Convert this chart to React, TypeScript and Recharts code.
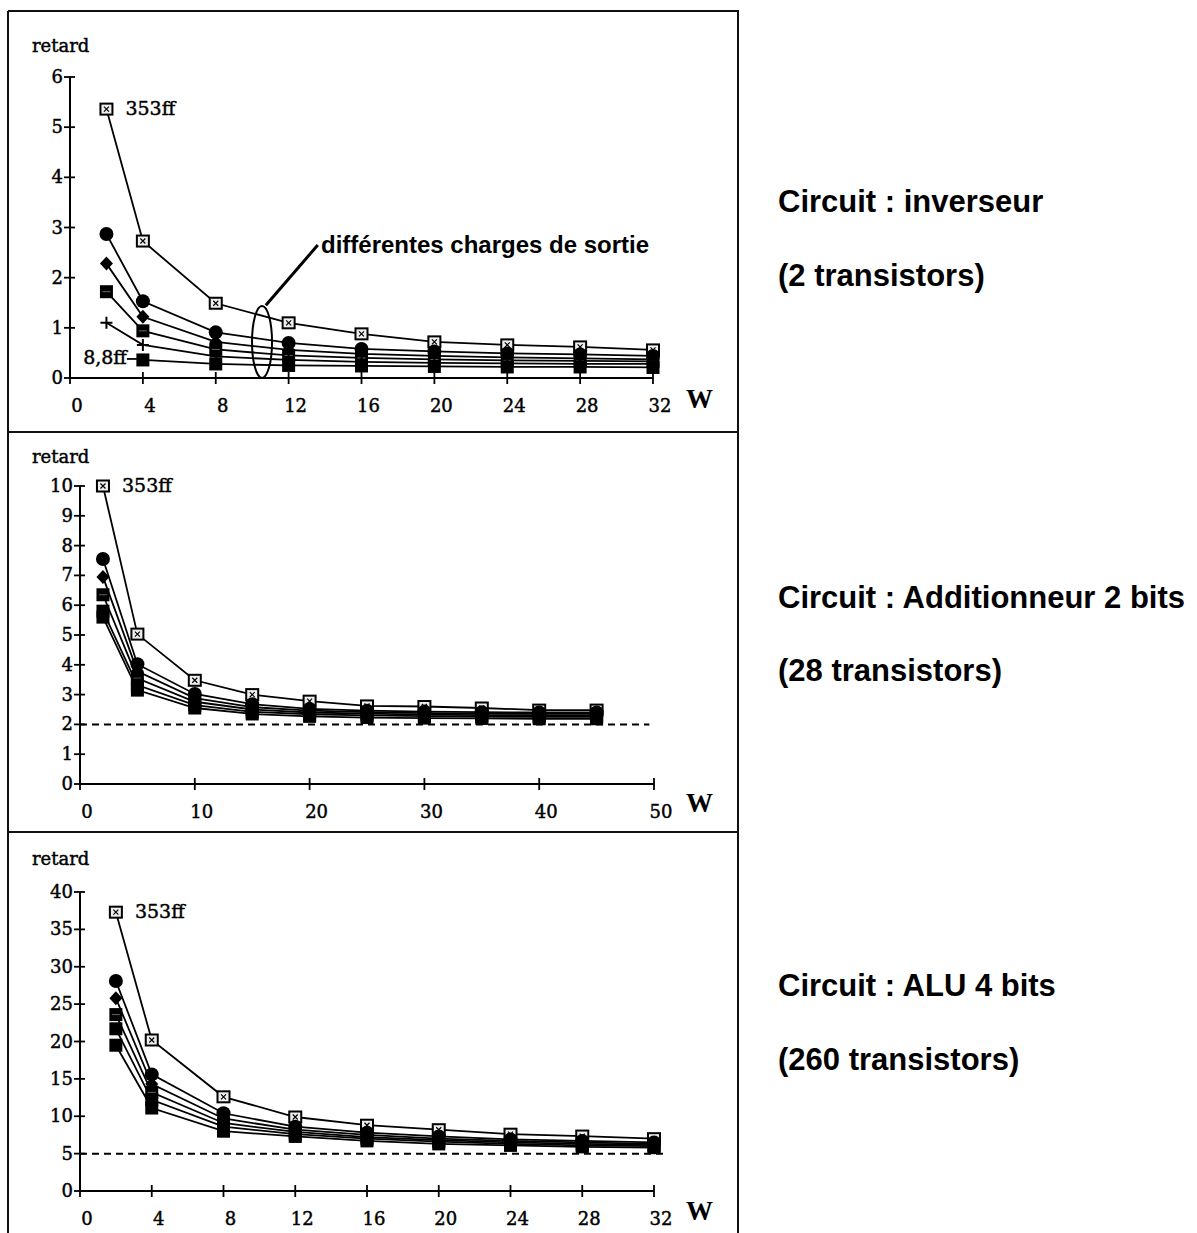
import React from "react";
import { LineChart, Line, XAxis, YAxis, ReferenceLine, ReferenceDot, LabelList } from "recharts";

const SERIF = '"DejaVu Serif", "Liberation Serif", serif';
const SANS = '"Liberation Sans", Arial, sans-serif';

// Inverseur (2 transistors) : retard vs largeur W
const invW = [2, 4, 8, 12, 16, 20, 24, 28, 32];
const inv353ff = [5.36, 2.73, 1.49, 1.1, 0.88, 0.72, 0.66, 0.62, 0.56];
const invLoadB = [2.87, 1.53, 0.91, 0.7, 0.58, 0.53, 0.49, 0.47, 0.44];
const invLoadC = [2.28, 1.22, 0.72, 0.56, 0.48, 0.44, 0.41, 0.39, 0.37];
const invLoadD = [1.72, 0.94, 0.57, 0.45, 0.4, 0.37, 0.35, 0.34, 0.33];
const invLoadE = [1.1, 0.66, 0.43, 0.36, 0.32, 0.3, 0.29, 0.28, 0.28];
const inv8_8ff = [null, 0.36, 0.28, 0.25, 0.24, 0.23, 0.22, 0.22, 0.21];

// Additionneur 2 bits (28 transistors)
const addW = [2, 5, 10, 15, 20, 25, 30, 35, 40, 45];
const add353ff = [10.0, 5.03, 3.48, 3.0, 2.78, 2.62, 2.6, 2.55, 2.48, 2.48];
const addLoadB = [7.55, 4.02, 3.02, 2.68, 2.52, 2.46, 2.43, 2.41, 2.4, 2.4];
const addLoadC = [6.95, 3.78, 2.88, 2.58, 2.46, 2.41, 2.38, 2.36, 2.35, 2.35];
const addLoadD = [6.35, 3.55, 2.76, 2.5, 2.4, 2.36, 2.33, 2.31, 2.3, 2.3];
const addLoadE = [5.8, 3.32, 2.65, 2.42, 2.34, 2.3, 2.28, 2.26, 2.25, 2.25];
const addLoadF = [5.6, 3.15, 2.55, 2.35, 2.27, 2.23, 2.21, 2.2, 2.19, 2.19];

// ALU 4 bits (260 transistors)
const aluW = [2, 4, 8, 12, 16, 20, 24, 28, 32];
const alu353ff = [37.3, 20.2, 12.6, 9.9, 8.8, 8.2, 7.6, 7.35, 7.0];
const aluLoadB = [28.1, 15.6, 10.4, 8.6, 7.8, 7.3, 6.9, 6.7, 6.5];
const aluLoadC = [25.8, 14.3, 9.7, 8.2, 7.5, 7.0, 6.7, 6.5, 6.3];
const aluLoadD = [23.6, 13.2, 9.1, 7.9, 7.2, 6.8, 6.5, 6.3, 6.15];
const aluLoadE = [21.7, 12.2, 8.6, 7.6, 7.0, 6.6, 6.3, 6.1, 6.0];
const aluLoadF = [19.5, 11.1, 8.0, 7.3, 6.7, 6.3, 6.1, 5.9, 5.8];

const invTicksX = [0, 4, 8, 12, 16, 20, 24, 28, 32];
const invTicksY = [0, 1, 2, 3, 4, 5, 6];
const addTicksX = [0, 10, 20, 30, 40, 50];
const addTicksY = [0, 1, 2, 3, 4, 5, 6, 7, 8, 9, 10];
const aluTicksX = [0, 4, 8, 12, 16, 20, 24, 28, 32];
const aluTicksY = [0, 5, 10, 15, 20, 25, 30, 35, 40];

const invMarkers = ["xsq", "circle", "diamond", "sqx", "plus", "square"];
const otherMarkers = ["xsq", "circle", "diamond", "sqx", "square", "square"];

const buildRows = (w: number[], series: (number | null)[][]) =>
  w.map((x, i) => {
    const row: any = { w: x };
    series.forEach((s, j) => (row[`s${j}`] = s[i]));
    return row;
  });

// scanned serif lettering is heavy, so give it a thin outline
const serifText = { fontFamily: SERIF, fill: "#000", stroke: "#000", strokeWidth: 0.45 };

const Marker = ({ kind, cx, cy }: { kind: string; cx: number; cy: number }) => {
  switch (kind) {
    case "xsq":
      return (
        <g>
          <rect x={cx - 6} y={cy - 5.5} width={12} height={11} fill="#eee" stroke="#000" strokeWidth={2} />
          <path
            d={`M${cx - 2.5} ${cy - 2.5}L${cx + 2.5} ${cy + 2.5}M${cx + 2.5} ${cy - 2.5}L${cx - 2.5} ${cy + 2.5}`}
            stroke="#000"
            strokeWidth={1.2}
          />
        </g>
      );
    case "circle":
      return <circle cx={cx} cy={cy} r={7} fill="#000" />;
    case "diamond":
      return <path d={`M${cx} ${cy - 7}L${cx + 6.5} ${cy}L${cx} ${cy + 7}L${cx - 6.5} ${cy}Z`} fill="#000" />;
    case "sqx":
      return (
        <g>
          <rect x={cx - 6.5} y={cy - 6.5} width={13} height={13} fill="#000" />
          <path d={`M${cx - 4} ${cy}L${cx + 4} ${cy}`} stroke="#666" strokeWidth={1} />
        </g>
      );
    case "plus":
      return (
        <path
          d={`M${cx - 6} ${cy}L${cx + 6} ${cy}M${cx} ${cy - 6}L${cx} ${cy + 6}`}
          stroke="#000"
          strokeWidth={2}
        />
      );
    default:
      return <rect x={cx - 6.5} y={cy - 6.5} width={13} height={13} fill="#000" />;
  }
};

const XTick = (p: any) => {
  const { x, y, payload } = p;
  return (
    <g>
      <line x1={x} x2={x} y1={y - 6} y2={y + 6} stroke="#000" strokeWidth={1.8} />
      <text x={x + 7} y={y + 34} textAnchor="middle" fontSize={18} {...serifText}>
        {payload.value}
      </text>
    </g>
  );
};

const YTick = (p: any) => {
  const { x, y, payload } = p;
  return (
    <g>
      <line x1={x - 6} x2={x + 5} y1={y} y2={y} stroke="#000" strokeWidth={1.8} />
      <text x={x - 7} y={y + 6} textAnchor="end" fontSize={18} {...serifText}>
        {payload.value}
      </text>
    </g>
  );
};

const tagLabel = (text: string, at: number, side: "right" | "left") => (p: any) => {
  if (p.index !== at || p.x == null || p.y == null) return <g key={`l${p.index}`} />;
  if (side === "right")
    return (
      <text key="tag" x={p.x + 19} y={p.y + 6} fontSize={19} {...serifText}>
        {text}
      </text>
    );
  return (
    <g key="tag">
      <text x={p.x - 16} y={p.y + 4} textAnchor="end" fontSize={19} {...serifText}>
        {text}
      </text>
      <line x1={p.x - 16} x2={p.x - 6} y1={p.y - 1} y2={p.y - 1} stroke="#000" strokeWidth={1.8} />
    </g>
  );
};

interface PanelProps {
  top: number;
  height: number;
  margin: { top: number; right: number; bottom: number; left: number };
  rows: any[];
  markers: string[];
  xDomain: [number, number];
  xTicks: number[];
  yDomain: [number, number];
  yTicks: number[];
  bottomTag?: string;
  extras?: React.ReactNode[];
}

const Panel = ({ top, height, margin, rows, markers, xDomain, xTicks, yDomain, yTicks, bottomTag, extras }: PanelProps) => (
  <div style={{ position: "absolute", left: 0, top }}>
    <LineChart width={740} height={height} data={rows} margin={margin}>
      <XAxis
        dataKey="w"
        type="number"
        domain={xDomain}
        ticks={xTicks}
        interval={0}
        height={30}
        tickSize={0}
        tickMargin={0}
        tickLine={false}
        tick={<XTick />}
        axisLine={{ stroke: "#000", strokeWidth: 2 }}
      />
      <YAxis
        type="number"
        domain={yDomain}
        ticks={yTicks}
        interval={0}
        width={40}
        tickSize={0}
        tickMargin={0}
        tickLine={false}
        tick={<YTick />}
        axisLine={{ stroke: "#000", strokeWidth: 2 }}
      />
      {extras}
      {markers.map((kind, j) => (
        <Line
          key={j}
          dataKey={`s${j}`}
          stroke="#000"
          strokeWidth={1.8}
          isAnimationActive={false}
          activeDot={false}
          dot={(d: any) =>
            d.cx == null || d.cy == null || d.value == null ? (
              <g key={`d${j}-${d.index}`} />
            ) : (
              <Marker key={`d${j}-${d.index}`} kind={kind} cx={d.cx} cy={d.cy} />
            )
          }
        >
          {j === 0 && <LabelList dataKey={`s${j}`} content={tagLabel("353ff", 0, "right")} />}
          {j === markers.length - 1 && bottomTag && (
            <LabelList dataKey={`s${j}`} content={tagLabel(bottomTag, 1, "left")} />
          )}
        </Line>
      ))}
    </LineChart>
  </div>
);

const invRows = buildRows(invW, [inv353ff, invLoadB, invLoadC, invLoadD, invLoadE, inv8_8ff]);
const addRows = buildRows(addW, [add353ff, addLoadB, addLoadC, addLoadD, addLoadE, addLoadF]);
const aluRows = buildRows(aluW, [alu353ff, aluLoadB, aluLoadC, aluLoadD, aluLoadE, aluLoadF]);

const circuitTitles = [
  { y: 212, text: "Circuit : inverseur" },
  { y: 286, text: "(2 transistors)" },
  { y: 608, text: "Circuit : Additionneur 2 bits" },
  { y: 681, text: "(28 transistors)" },
  { y: 996, text: "Circuit : ALU 4 bits" },
  { y: 1070, text: "(260 transistors)" },
];

export default function App() {
  return (
    <div style={{ position: "absolute", left: 0, top: 0, width: 1197, height: 1233, background: "#fff", overflow: "hidden" }}>
      <Panel
        top={12}
        height={420}
        margin={{ top: 65, right: 87, bottom: 24, left: 30 }}
        rows={invRows}
        markers={invMarkers}
        xDomain={[0, 32]}
        xTicks={invTicksX}
        yDomain={[0, 6]}
        yTicks={invTicksY}
        bottomTag="8,8ff"
        extras={[
          <ReferenceDot
            key="ell"
            x={10.54}
            y={0.72}
            r={0}
            isFront
            shape={(p: any) => (
              <ellipse cx={p.cx} cy={p.cy} rx={10} ry={36} fill="none" stroke="#000" strokeWidth={2} />
            )}
          />,
          <ReferenceLine
            key="ptr"
            segment={[
              { x: 10.75, y: 1.45 },
              { x: 13.6, y: 2.65 },
            ]}
            stroke="#000"
            strokeWidth={3}
          />,
        ]}
      />
      <Panel
        top={432}
        height={400}
        margin={{ top: 54, right: 86, bottom: 18, left: 40 }}
        rows={addRows}
        markers={otherMarkers}
        xDomain={[0, 50]}
        xTicks={addTicksX}
        yDomain={[0, 10]}
        yTicks={addTicksY}
        extras={[
          <ReferenceLine
            key="lim"
            segment={[
              { x: 0, y: 2 },
              { x: 49.6, y: 2 },
            ]}
            stroke="#000"
            strokeWidth={2}
            strokeDasharray="7 5"
          />,
        ]}
      />
      <Panel
        top={832}
        height={401}
        margin={{ top: 60, right: 86, bottom: 12, left: 40 }}
        rows={aluRows}
        markers={otherMarkers}
        xDomain={[0, 32]}
        xTicks={aluTicksX}
        yDomain={[0, 40]}
        yTicks={aluTicksY}
        extras={[
          <ReferenceLine
            key="lim"
            segment={[
              { x: 0, y: 5 },
              { x: 32.5, y: 5 },
            ]}
            ifOverflow="visible"
            stroke="#000"
            strokeWidth={2}
            strokeDasharray="7 5"
          />,
        ]}
      />
      <svg width={1197} height={1233} style={{ position: "absolute", left: 0, top: 0, pointerEvents: "none" }}>
        {/* panel frames */}
        <path d="M8 11H738V1233M8 11V1233M8 432H738M8 832H738" fill="none" stroke="#111" strokeWidth={2} />
        {[52, 463, 865].map((y) => (
          <text key={`r${y}`} x={32} y={y} fontSize={18} {...serifText}>
            retard
          </text>
        ))}
        {[408, 812, 1220].map((y) => (
          <text key={`w${y}`} x={686} y={y} fontFamily='"Liberation Serif", serif' fontWeight="bold" fontSize={27} fill="#000">
            W
          </text>
        ))}
        <text x={321} y={253} fontFamily={SANS} fontWeight="bold" fontSize={24} fill="#000">
          différentes charges de sortie
        </text>
        {circuitTitles.map((t) => (
          <text key={t.text} x={778} y={t.y} fontFamily={SANS} fontWeight="bold" fontSize={31} fill="#000">
            {t.text}
          </text>
        ))}
      </svg>
    </div>
  );
}
